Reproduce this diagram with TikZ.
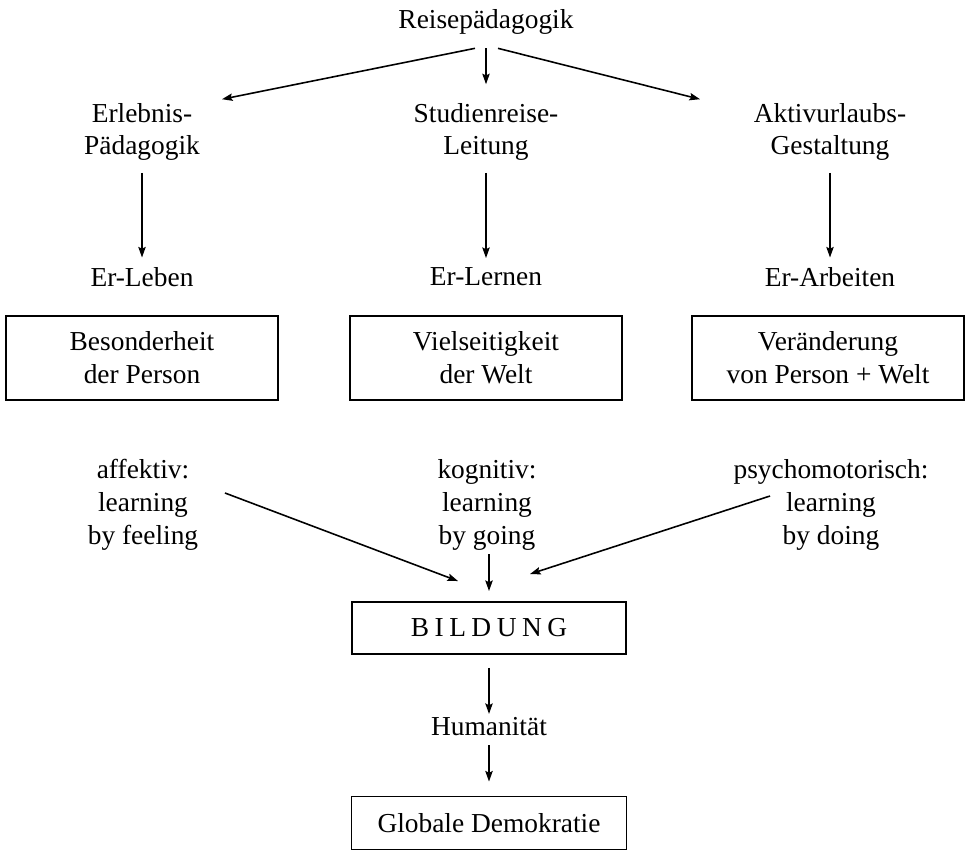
\documentclass[tikz,border=0pt]{standalone}
\usepackage{fontspec}
\setmainfont{Liberation Serif}
\usetikzlibrary{arrows.meta, positioning, calc}

\tikzset{
  lbl/.style={align=center, inner sep=2pt, font=\fontsize{15.6}{18.7}\selectfont},
  kasten/.style={lbl, draw, line width=1.1pt, minimum width=5.44cm, minimum height=1.68cm},
  arr/.style={-{Stealth[length=6pt,width=4.2pt,inset=1pt]}, line width=0.9pt}
}

\begin{document}
\begin{tikzpicture}[x=0.02cm, y=-0.02cm]
    \useasboundingbox (0,0) rectangle (970,852);
    % oberste Ebene
    \node[lbl] (reise) at (486,22) {Reisepädagogik};
    \node[lbl] (erl)  at (142,132) {Erlebnis-\\Pädagogik};
    \node[lbl] (stud) at (486,132) {Studienreise-\\Leitung};
    \node[lbl] (akt)  at (830,132) {Aktivurlaubs-\\Gestaltung};
    \draw[arr] ([xshift=-0.22cm,yshift=-0.2cm]reise.south) -- ([xshift=1.6cm]erl.north);
    \draw[arr] ([yshift=-0.2cm]reise.south) -- ([yshift=0.3cm]stud.north);
    \draw[arr] ([xshift=0.24cm,yshift=-0.2cm]reise.south) -- ([xshift=-2.6cm]akt.north);
    % Er-...
    \node[lbl] (leben)   at (142,277) {Er-Leben};
    \node[lbl] (lernen)  at (486,277) {Er-Lernen};
    \node[lbl] (arbeit)  at (830,277) {Er-Arbeiten};
    \draw[arr] ([yshift=-0.16cm]erl.south) -- ([yshift=0.12cm]leben.north);
    \draw[arr] ([yshift=-0.16cm]stud.south) -- ([yshift=0.12cm]lernen.north);
    \draw[arr] ([yshift=-0.16cm]akt.south) -- ([yshift=0.12cm]arbeit.north);
    % Kaesten
    \node[kasten] (bes)  at (142,358) {Besonderheit\\der Person};
    \node[kasten] (viel) at (486,358) {Vielseitigkeit\\der Welt};
    \node[kasten] (ver)  at (828,358) {Veränderung\\von Person + Welt};
    % Lernformen
    \node[lbl] (aff) at (143,505) {affektiv:\\learning\\by feeling};
    \node[lbl] (kog) at (487,505) {kognitiv:\\learning\\by going};
    \node[lbl] (psy) at (831,505) {psychomotorisch:\\learning\\by doing};
    \node[kasten, minimum width=5.48cm, minimum height=1.04cm] (bild) at (489,628)
      {\addfontfeature{LetterSpace=20}BILDUNG};
    \draw[arr] ([xshift=1.64cm,yshift=0.24cm]aff.center) -- ([xshift=-0.62cm,yshift=0.4cm]bild.north);
    \draw[arr] (kog.south -| bild.north) -- ([yshift=0.2cm]bild.north);
    \draw[arr] ([xshift=-1.22cm,yshift=0.18cm]psy.center) -- ([xshift=0.82cm,yshift=0.54cm]bild.north);
    % unten
    \node[lbl] (hum) at (489,727) {Humanität};
    \node[kasten, minimum width=5.5cm, minimum height=1.06cm] (demo) at (489,823) {Globale Demokratie};
    \draw[arr] ([yshift=-0.26cm]bild.south) -- (hum.north);
    \draw[arr] ([yshift=-0.1cm]hum.south) -- ([yshift=0.28cm]demo.north);
\end{tikzpicture}
\end{document}
